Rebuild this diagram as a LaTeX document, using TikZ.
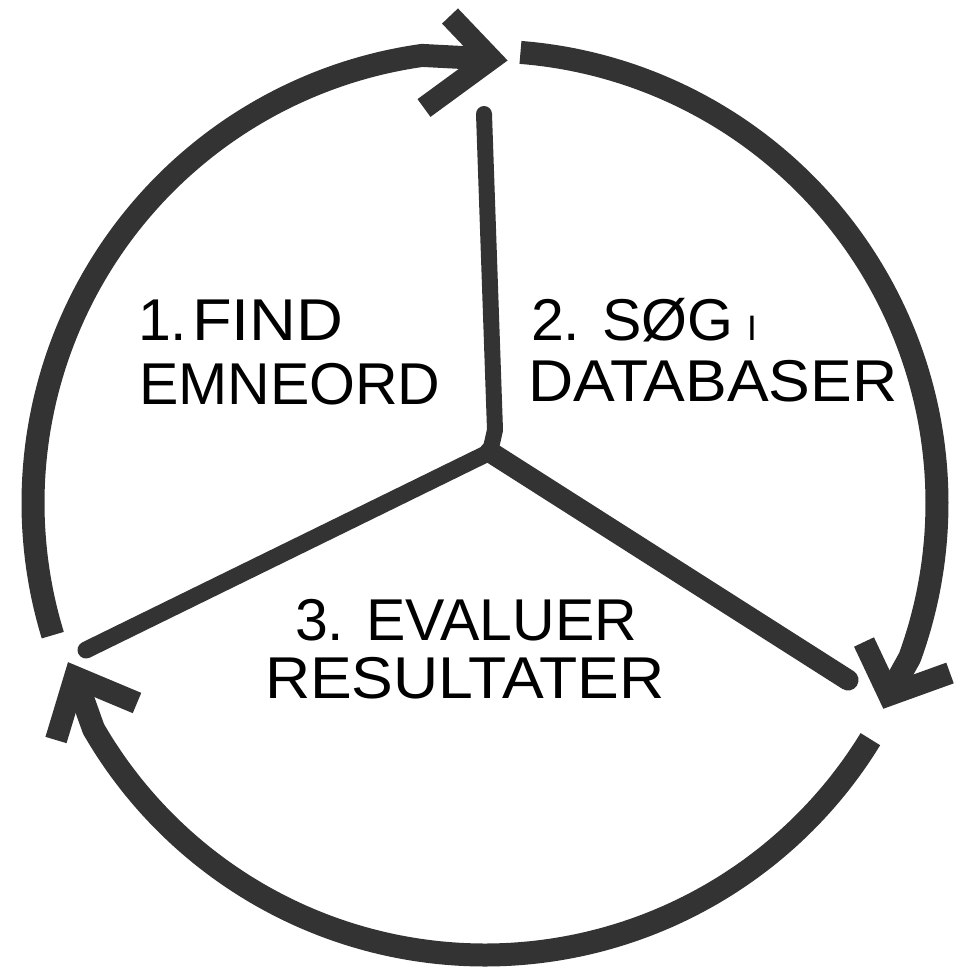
\documentclass[tikz,border=0pt]{standalone}
\usepackage{fontspec}
\setmainfont{Liberation Sans}
\definecolor{ink}{RGB}{51,51,51}
\tikzset{
  rim/.style={draw=ink, line width=23pt, line cap=butt, line join=round},
  headstroke/.style={draw=ink, line width=22pt, line cap=butt, line join=miter},
  spoke/.style={draw=ink, line cap=round, line join=round},
  lbl/.style={anchor=base west, inner sep=0pt, outer sep=0pt, text=black,
              font=\fontsize{59}{60}\selectfont}
}
\begin{document}
\begin{tikzpicture}[x=1pt, y=-1pt]
\useasboundingbox (0,0) rectangle (961,970);
\fill[white] (0,0) rectangle (961,970);

% arrow head vertices and arm ends
\coordinate (tv1) at (491,59);
\coordinate (a1) at (450,16);
\coordinate (b1) at (424,108);
\coordinate (tv2) at (889,695);
\coordinate (a2) at (864,642);
\coordinate (b2) at (950,673);
\coordinate (tv3) at (75,677);
\coordinate (a3) at (56,740);
\coordinate (b3) at (137,703);

% rim arcs
\draw[rim] plot[domain=163:262, samples=80, smooth] ({485+452*cos(\x)}, {503+452*sin(\x)}) -- (tv1);
\draw[rim] plot[domain=274.5:380, samples=80, smooth] ({485+452*cos(\x)}, {503+452*sin(\x)}) -- (tv2);
\draw[rim] plot[domain=31.5:150, samples=80, smooth] ({485+452*cos(\x)}, {503+452*sin(\x)}) -- (tv3);

% arrow heads
\draw[headstroke] (a1) -- (tv1) -- (b1);
\draw[headstroke] (a2) -- (tv2) -- (b2);
\draw[headstroke] (a3) -- (tv3) -- (b3);

% spokes
\coordinate (hub) at (490,452);
\coordinate (sup) at (484,114);
\coordinate (kink) at (495,430);
\coordinate (sll) at (86,650);
\coordinate (slr) at (848,680);
\draw[spoke, line width=16pt] (sup) -- (kink) -- (hub);
\draw[spoke, line width=17pt] (hub) -- (sll);
\draw[spoke, line width=21pt] (hub) -- (slr);

% labels
\node[lbl] (t1a) at (138,340) {1.\hspace{5pt}\scalebox{1.1}[1]{FIND}};
\node[lbl] (t1b) at (139,404) {EMNEORD};
\node[lbl] (t2a) at (531,340) {2. SØG\hspace{14pt}\scalebox{0.6}{I}};
\node[lbl] (t2b) at (528,401) {\scalebox{1.06}[1]{DATABASER}};
\node[lbl] (t3a) at (295,640) {3. EVALUER};
\node[lbl] (t3b) at (265,698) {\scalebox{1.06}[1]{RESULTATER}};
\end{tikzpicture}
\end{document}
